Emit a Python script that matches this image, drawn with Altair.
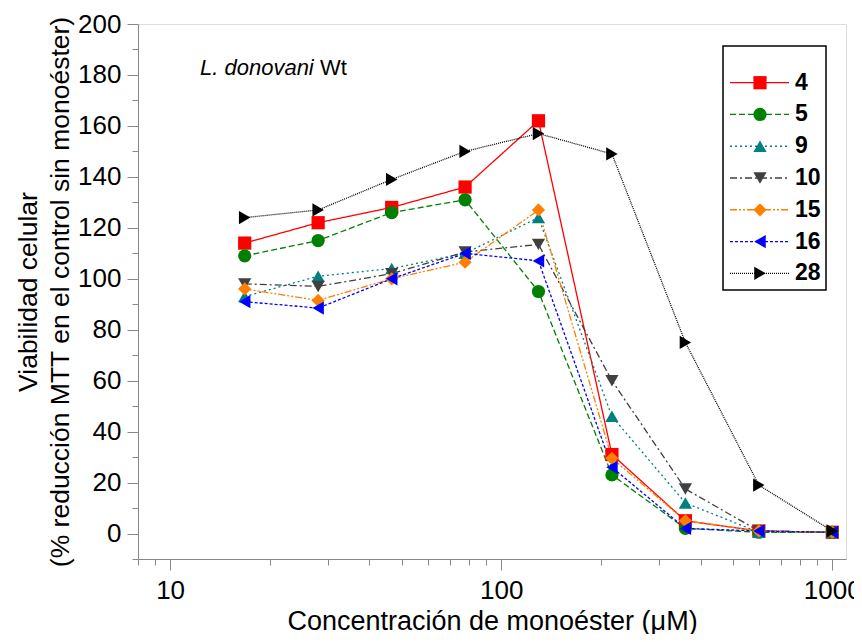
import altair as alt
import pandas as pd

# ---- data ----
conc = [16.8, 28, 46.7, 77.8, 129.6, 216, 360, 600, 1000]
series = ["4", "5", "9", "10", "15", "16", "28"]
s4 = [114, 122, 128, 136, 162, 31, 5, 1, 0.5]
s5 = [109, 115, 126, 131, 95, 23, 2, 0.5, 0.5]
s9 = [93, 101, 104, 110, 124, 46, 12, 0.5, 0.5]
s10 = [98, 97, 102, 110.5, 113.5, 60, 17.5, 1, 0.5]
s15 = [96, 91.5, 100, 106.5, 127, 29.5, 5, 1, 0.5]
s16 = [91, 88.5, 100, 110, 107, 26, 2, 1, 0.5]
s28 = [124, 127, 139, 150, 157, 149, 75, 19, 1]
values = [s4, s5, s9, s10, s15, s16, s28]

x_major = [10, 100, 1000]
x_minor = [8, 9, 20, 30, 40, 50, 60, 70, 80, 90, 200, 300, 400, 500, 600, 700, 800, 900]
y_major = [0, 20, 40, 60, 80, 100, 120, 140, 160, 180, 200]
y_minor = [-10, 10, 30, 50, 70, 90, 110, 130, 150, 170, 190]

# ---- styles ----
colors = ["#FF0000", "#008000", "#008080", "#404040", "#FF8000", "#0000FF", "#000000"]
shapes = ["square", "circle", "triangle-up", "triangle-down", "diamond", "triangle-left", "triangle-right"]
dashes = [[1, 0], [6, 3], [2, 3], [7, 3, 2, 3], [7, 2, 2, 2, 2, 2], [3, 2], [1, 1]]

FONT = "Liberation Sans"

rows = []
for name, vals in zip(series, values):
    for c, v in zip(conc, vals):
        rows.append({"conc": c, "val": v, "series": name})
df = pd.DataFrame(rows)

xscale = alt.Scale(type="log", domain=[8, 1100], nice=False)
yscale = alt.Scale(domain=[-10, 200], nice=False, zero=False)
cscale = alt.Scale(domain=series, range=colors)
sscale = alt.Scale(domain=series, range=shapes)
dscale = alt.Scale(domain=series, range=dashes)

x_axis_major = alt.Axis(orient="bottom", values=x_major, format="d", tickSize=11, labelFontSize=26,
                        labelPadding=7, title="Concentración de monoéster (μM)",
                        titleFontSize=27, titleFontWeight="normal", titlePadding=5,
                        grid=False, labelFont=FONT, titleFont=FONT)
x_axis_minor = alt.Axis(orient="bottom", values=x_minor, tickSize=6, labels=False, domain=False,
                        title=None, grid=False)
y_axis_major = alt.Axis(orient="left", values=y_major, tickSize=11, labelFontSize=26, labelPadding=6,
                        title=["Viabilidad celular", "(% reducción MTT en el control sin monoéster)"],
                        titleFontSize=26.5, titleFontWeight="normal", titlePadding=3,
                        titleLineHeight=32, grid=False, labelFont=FONT, titleFont=FONT)
y_axis_minor = alt.Axis(orient="left", values=y_minor, tickSize=6, labels=False, domain=False,
                        title=None, grid=False)

base = alt.Chart(df)

lines = base.mark_line(strokeWidth=1.3).encode(
    x=alt.X("conc:Q", scale=xscale, axis=x_axis_major),
    y=alt.Y("val:Q", scale=yscale, axis=y_axis_major),
    color=alt.Color("series:N", scale=cscale, legend=None),
    strokeDash=alt.StrokeDash("series:N", scale=dscale, legend=None),
    detail="series:N",
)

points = base.mark_point(filled=True, size=175, opacity=1).encode(
    x=alt.X("conc:Q", scale=xscale, axis=x_axis_minor),
    y=alt.Y("val:Q", scale=yscale, axis=y_axis_minor),
    color=alt.Color("series:N", scale=cscale, legend=None),
    shape=alt.Shape("series:N", scale=sscale, legend=None),
)

main = alt.layer(lines, points).resolve_axis(x="independent", y="independent")

# ---- manual legend box (as in the reference) ----
leg_df = pd.DataFrame({"series": series})
leg_y = alt.Y("series:N", scale=alt.Scale(type="point", domain=series, range=[58.7, 249.3], padding=0),
              axis=None)

box = alt.Chart(pd.DataFrame({"a": [0]})).mark_rect(
    fill="white", stroke="black", strokeWidth=1.5
).encode(x=alt.value(585), x2=alt.value(688), y=alt.value(22), y2=alt.value(266))

leg_lines = alt.Chart(leg_df).mark_rule(strokeWidth=1.3).encode(
    x=alt.value(592), x2=alt.value(651), y=leg_y,
    color=alt.Color("series:N", scale=cscale, legend=None),
    strokeDash=alt.StrokeDash("series:N", scale=dscale, legend=None),
)
leg_pts = alt.Chart(leg_df).mark_point(filled=True, size=175, opacity=1).encode(
    x=alt.value(622), y=leg_y,
    color=alt.Color("series:N", scale=cscale, legend=None),
    shape=alt.Shape("series:N", scale=sscale, legend=None),
)
leg_txt = alt.Chart(leg_df).mark_text(
    align="left", baseline="middle", fontSize=23, fontWeight="bold", font=FONT, color="black"
).encode(x=alt.value(657), y=leg_y, text="series:N")

# ---- in-plot annotation ----
ann1 = alt.Chart(pd.DataFrame({"t": ["L. donovani"]})).mark_text(
    align="left", baseline="alphabetic", fontSize=22, fontStyle="italic", font=FONT, color="black"
).encode(x=alt.value(62), y=alt.value(51), text="t:N")
ann2 = alt.Chart(pd.DataFrame({"t": ["Wt"]})).mark_text(
    align="left", baseline="alphabetic", fontSize=22, font=FONT, color="black"
).encode(x=alt.value(182), y=alt.value(51), text="t:N")

chart = alt.layer(main, box, leg_lines, leg_pts, leg_txt, ann1, ann2).resolve_scale(
    x="independent", y="independent"
).properties(
    width=708, height=535,
    autosize=alt.AutoSizeParams(type="none"),
    padding={"left": 130, "top": 16, "right": 8, "bottom": 75},
).configure_view(
    stroke="black", strokeWidth=2
).configure_axis(
    domainColor="black", domainWidth=2, tickColor="black", tickWidth=1.5,
    labelColor="black", titleColor="black"
).configure(font=FONT, background="white")

chart.save("out.html", embed_options={"renderer": "svg", "actions": False})
